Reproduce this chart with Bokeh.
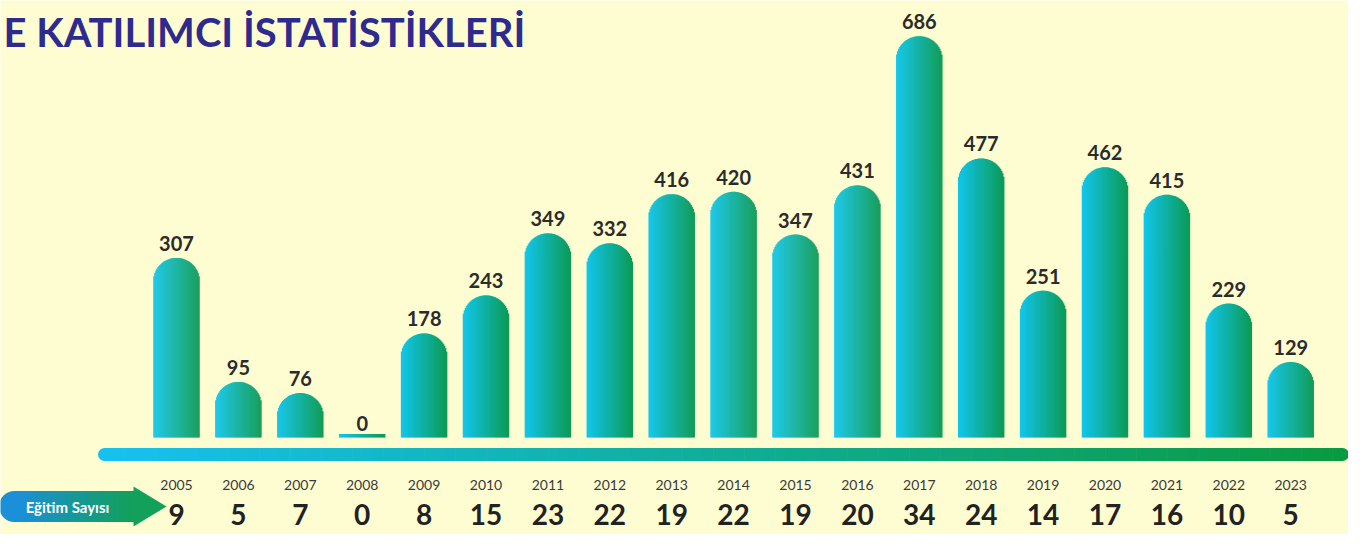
import numpy as np
from bokeh.plotting import figure
from bokeh.models import Range1d, ColumnDataSource
from bokeh.core.properties import value
from bokeh.embed import file_html
from bokeh.resources import INLINE

# ---- data ----
years = ["2005", "2006", "2007", "2008", "2009", "2010", "2011", "2012", "2013", "2014",
         "2015", "2016", "2017", "2018", "2019", "2020", "2021", "2022", "2023"]
participants = [307, 95, 76, 0, 178, 243, 349, 332, 416, 420,
                347, 431, 686, 477, 251, 462, 415, 229, 129]
trainings = [9, 5, 7, 0, 8, 15, 23, 22, 19, 22, 19, 20, 34, 24, 14, 17, 16, 10, 5]
title_text = "E KATILIMCI İSTATİSTİKLERİ"
row_label = "Eğitim Sayısı"

# ---- layout ----
W, H = 1348, 534
X0_PX = 176.0        # px of first bar centre
STEP_PX = 61.9       # px between bars
BASE_PX = 437.0      # px from top of baseline
PPU = 0.585          # px per participant unit

x_start = -X0_PX / STEP_PX
x_end = (W - X0_PX) / STEP_PX
y_start = -(H - BASE_PX) / PPU
y_end = BASE_PX / PPU

def fx(px):
    return (px - X0_PX) / STEP_PX

def fy(py):
    return (BASE_PX - py) / PPU

def lerp_color(c1, c2, t):
    a = [int(c1[i:i + 2], 16) for i in (1, 3, 5)]
    b = [int(c2[i:i + 2], 16) for i in (1, 3, 5)]
    return "#%02x%02x%02x" % tuple(int(round(a[k] + (b[k] - a[k]) * t)) for k in range(3))

p = figure(width=W, height=H, output_backend="svg", toolbar_location=None,
           x_range=Range1d(x_start, x_end), y_range=Range1d(y_start, y_end),
           min_border=0)
p.axis.visible = False
p.grid.visible = False
p.outline_line_color = None
p.background_fill_color = "#fefdd2"
p.border_fill_color = "#fefdd2"

# ---- bars as gradient strips with rounded tops ----
BAR_PX = 46.0
K = 46
strip_px = BAR_PX / K
r = BAR_PX / 2
xs, tops, cols, widths = [], [], [], []
for i, v in enumerate(participants):
    for k in range(K):
        dx = -r + strip_px * (k + 0.5)
        sag = r - np.sqrt(max(r * r - dx * dx, 0.0))
        if v * PPU < 6:
            top = 3.5 / PPU
        else:
            top = v - sag / PPU
        xs.append(i + dx / STEP_PX)
        tops.append(top)
        cols.append(lerp_color("#12c6ec", "#0c9a56", k / (K - 1)))
        widths.append((strip_px + 0.5) / STEP_PX)
p.vbar(x=xs, top=tops, bottom=0, width=widths, fill_color=cols, line_color=None)

# ---- value labels ----
idx = list(range(len(years)))
src = ColumnDataSource(dict(x=idx, v=participants, lab=[str(v) for v in participants],
                            yr=years, tr=[str(t) for t in trainings]))
p.text(x="x", y="v", text="lab", source=src, text_align="center", text_baseline="bottom",
       y_offset=-7, text_font=value("Lato"), text_font_style="bold",
       text_font_size="20px", text_color="#2b2b2b")

# ---- timeline bar ----
N = 120
tl_x = np.linspace(fx(104), fx(1342), N + 1)
tl_cols = [lerp_color("#16c1ee", "#0a9a42", t) for t in np.linspace(0, 1, N)]
p.segment(x0=tl_x[:-1], x1=tl_x[1:] + 0.01, y0=fy(454), y1=fy(454), line_color=tl_cols,
          line_width=13, line_cap="butt")
p.scatter(x=[tl_x[0], tl_x[-1]], y=[fy(454), fy(454)], size=13,
          fill_color=["#16c1ee", "#0a9a42"], line_color=None)

# ---- years and training counts ----
p.text(x="x", y=fy(484), text="yr", source=src, text_align="center", text_baseline="middle",
       text_font=value("Lato"), text_font_size="14px", text_color="#3a3a3a")
p.text(x="x", y=fy(514), text="tr", source=src, text_align="center", text_baseline="middle",
       text_font=value("Lato"), text_font_style="bold", text_font_size="28px",
       text_color="#222222")

# ---- "Eğitim Sayısı" arrow ----
ay = fy(506)
M = 40
ax = np.linspace(fx(14), fx(134), M + 1)
a_cols = [lerp_color("#1b8fd8", "#12a05a", t) for t in np.linspace(0, 1, M)]
p.segment(x0=ax[:-1], x1=ax[1:] + 0.01, y0=ay, y1=ay, line_color=a_cols, line_width=31,
          line_cap="butt")
p.scatter(x=[ax[0]], y=[ay], size=31, fill_color="#1b8fd8", line_color=None)
p.patch(x=[fx(133), fx(133), fx(166)], y=[fy(486), fy(526), ay],
        fill_color="#12a05a", line_color=None)
p.text(x=[fx(67)], y=[ay], text=[row_label], text_align="center", text_baseline="middle",
       text_font=value("Lato"), text_font_style="bold", text_font_size="15px",
       text_color="white")

# ---- title ----
p.text(x=[fx(3)], y=[fy(31)], text=[title_text], text_align="left",
       text_baseline="alphabetic", text_font=value("Lato"), text_font_style="bold",
       text_font_size="40px", text_color="#2e2a8e")

open("out.html", "w").write(file_html(p, INLINE))
